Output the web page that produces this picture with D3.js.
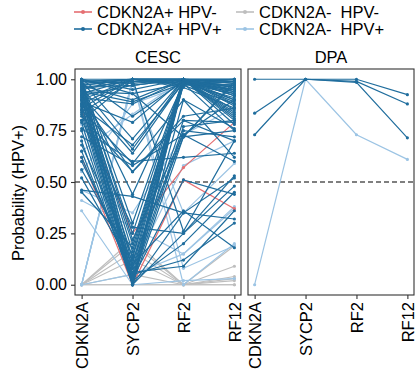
<!DOCTYPE html>
<html>
<head>
<meta charset="utf-8">
<script src="https://cdn.jsdelivr.net/npm/d3@7"></script>
<style>
  body { margin: 0; background: #fff; }
  text { font-family: "Liberation Sans", Arial, sans-serif; fill: #000; }
</style>
</head>
<body>
<svg width="416" height="375"></svg>
<script>
const genes = ["CDKN2A", "SYCP2", "RF2", "RF12"]
const groups = ["CDKN2A+ HPV-", "CDKN2A+ HPV+", "CDKN2A-  HPV-", "CDKN2A-  HPV+"]
const colors = ["#e56f72", "#1f6d9d", "#bebebe", "#9cc4e4"]
const panels = ["CESC", "DPA"]

// each row: probability at CDKN2A, SYCP2, RF2, RF12
const cescPosNeg = [
  [0.85, 0.25, 0.57, 0.79],
  [0.62, 0.00, 0.51, 0.37]
]
const cescPosPos = [
  [1.00, 1.00, 1.00, 1.00], [0.99, 1.00, 1.00, 0.98], [0.98, 1.00, 0.99, 0.96],
  [0.97, 1.00, 1.00, 0.93], [0.96, 0.99, 0.98, 0.95], [0.95, 1.00, 1.00, 0.90],
  [0.99, 0.98, 1.00, 0.99], [0.93, 1.00, 0.99, 0.97], [0.92, 0.97, 1.00, 0.92],
  [0.90, 1.00, 0.97, 0.88], [0.88, 1.00, 1.00, 0.85], [1.00, 0.95, 1.00, 0.82],
  [0.94, 0.93, 0.98, 0.94], [0.86, 1.00, 1.00, 0.99], [0.84, 0.99, 1.00, 0.80],
  [0.80, 1.00, 0.98, 0.91], [0.97, 0.90, 1.00, 0.87], [0.91, 0.88, 1.00, 1.00],
  [1.00, 0.82, 0.99, 0.97], [0.89, 0.79, 1.00, 0.78], [0.96, 0.66, 1.00, 0.96],
  [0.92, 0.64, 0.99, 0.90], [0.87, 0.68, 0.98, 0.99], [0.99, 0.71, 1.00, 0.84],
  [0.85, 0.59, 0.90, 0.76], [0.90, 0.55, 0.80, 0.70], [0.82, 0.55, 0.82, 0.86],
  [0.76, 0.60, 0.62, 0.64], [0.95, 0.44, 0.98, 0.93], [0.46, 0.43, 0.35, 0.32],
  [0.72, 0.58, 0.73, 0.60], [1.00, 0.30, 1.00, 1.00], [0.98, 0.25, 1.00, 0.96],
  [0.94, 0.20, 0.99, 0.89], [0.97, 0.16, 1.00, 0.94], [0.90, 0.13, 0.97, 0.99],
  [0.99, 0.10, 1.00, 0.83], [0.93, 0.08, 0.80, 0.79], [0.88, 0.05, 0.98, 0.97],
  [0.96, 0.03, 1.00, 0.92], [0.85, 0.02, 0.75, 0.72], [0.91, 0.01, 1.00, 0.88],
  [0.83, 0.00, 0.72, 0.98], [0.95, 0.00, 0.99, 0.95], [0.79, 0.00, 0.35, 0.52],
  [0.70, 0.00, 0.25, 0.48], [0.65, 0.02, 0.20, 0.45], [0.62, 0.05, 0.12, 0.30],
  [0.60, 0.10, 0.36, 0.18], [0.56, 0.12, 0.72, 0.75], [0.52, 0.08, 0.99, 1.00],
  [0.45, 0.18, 1.00, 0.98], [0.87, 0.04, 0.77, 0.80], [0.99, 0.22, 0.73, 0.90],
  [0.80, 0.28, 0.25, 0.53], [1.00, 0.03, 0.51, 0.44], [0.92, 0.00, 0.90, 0.62],
  [0.75, 0.00, 0.98, 1.00], [0.68, 0.14, 1.00, 0.95], [0.98, 0.06, 0.09, 0.36],
  [1.00, 0.93, 0.72, 0.99], [0.97, 1.00, 0.26, 0.70], [0.94, 0.89, 0.98, 0.75],
  [0.99, 1.00, 0.96, 0.86], [0.96, 0.97, 1.00, 0.81]
]
const cescNegNeg = [
  [0.00, 0.22, 0.00, 0.19], [0.00, 0.16, 0.00, 0.03], [0.00, 0.00, 0.00, 0.09],
  [0.00, 0.05, 0.00, 0.02], [0.00, 0.00, 0.00, 0.00], [0.00, 0.12, 0.00, 0.04],
  [0.00, 0.20, 0.00, 0.00]
]
const cescNegPos = [
  [0.00, 1.00, 0.00, 0.20], [0.00, 1.00, 0.98, 0.95], [0.00, 0.98, 0.35, 0.59],
  [0.00, 1.00, 0.08, 0.19], [0.46, 0.35, 0.73, 0.86], [0.41, 0.28, 0.15, 0.38],
  [0.36, 0.00, 0.02, 0.03], [0.55, 0.88, 0.97, 1.00], [0.65, 0.83, 1.00, 0.92],
  [0.00, 0.05, 0.15, 0.37], [0.78, 0.08, 0.58, 0.70]
]
const dpaPosPos = [
  [1.00, 1.00, 1.00, 0.925],
  [0.835, 1.00, 0.99, 0.88],
  [0.73, 1.00, 0.985, 0.715]
]
const dpaNegPos = [
  [0.00, 1.00, 0.73, 0.61]
]

// draw order: grey, light blue, red, dark blue on top
const cesc = [
  ...cescNegNeg.map(v => ({g: 2, v})),
  ...cescNegPos.map(v => ({g: 3, v})),
  ...cescPosNeg.map(v => ({g: 0, v})),
  ...cescPosPos.map(v => ({g: 1, v}))
]
const dpa = [
  ...dpaNegPos.map(v => ({g: 3, v})),
  ...dpaPosPos.map(v => ({g: 1, v}))
]

const svg = d3.select('svg')
const panelTop = 69, panelBottom = 295
const panelX = [[75, 241], [248, 414]]

const y = d3.scaleLinear().domain([-0.05, 1.05]).range([panelBottom, panelTop])

const line = (x) => d3.line()
    .x((d, i) => x(genes[i]))
    .y(d => y(d))

;[cesc, dpa].forEach((data, p) => {
  const [x0, x1] = panelX[p]
  const x = d3.scalePoint().domain(genes).range([x0, x1]).padding(0.13)
  const g = svg.append('g')

  g.append('text')
    .attr('x', (x0 + x1) / 2)
    .attr('y', 63)
    .attr('text-anchor', 'middle')
    .style('font-size', '16.5px')
    .text(panels[p])

  g.append('line')
    .attr('x1', x0).attr('x2', x1)
    .attr('y1', y(0.5)).attr('y2', y(0.5))
    .attr('stroke', '#000')
    .attr('stroke-width', 1.1)
    .attr('stroke-dasharray', '5,3')

  const s = g.selectAll('.sample').data(data).enter().append('g')
  s.append('path')
    .attr('d', d => line(x)(d.v))
    .attr('fill', 'none')
    .attr('stroke', d => colors[d.g])
    .attr('stroke-width', 1.2)
  s.selectAll('circle').data(d => d.v.map((v, i) => ({v, i, g: d.g}))).enter()
    .append('circle')
    .attr('cx', d => x(genes[d.i]))
    .attr('cy', d => y(d.v))
    .attr('r', 1.6)
    .attr('fill', d => colors[d.g])

  g.append('rect')
    .attr('x', x0).attr('y', panelTop)
    .attr('width', x1 - x0).attr('height', panelBottom - panelTop)
    .attr('fill', 'none')
    .attr('stroke', '#333')
    .attr('stroke-width', 1.1)

  const xa = g.append('g')
    .attr('transform', `translate(0, ${panelBottom})`)
    .call(d3.axisBottom(x).tickSize(4).tickPadding(3))
  xa.select('.domain').remove()
  xa.selectAll('.tick line').attr('stroke', '#333').attr('stroke-width', 1.1)
  xa.selectAll('.tick text')
    .attr('transform', 'rotate(-90)')
    .attr('x', -7).attr('y', 0).attr('dy', '0.35em')
    .attr('text-anchor', 'end')
    .style('font-size', '16.5px')
    .attr('fill', '#000')
    .attr('font-family', null)

  if (p === 0) {
    const ya = g.append('g')
      .attr('transform', `translate(${x0}, 0)`)
      .call(d3.axisLeft(y).tickValues([0, 0.25, 0.5, 0.75, 1]).tickFormat(d3.format('.2f')).tickSize(4).tickPadding(4))
    ya.select('.domain').remove()
    ya.selectAll('.tick line').attr('stroke', '#333').attr('stroke-width', 1.1)
    ya.selectAll('.tick text')
      .style('font-size', '16px')
      .attr('fill', '#000')
      .attr('font-family', null)
  }
})

svg.append('text')
  .attr('transform', 'translate(24, 193) rotate(-90)')
  .attr('text-anchor', 'middle')
  .style('font-size', '16.5px')
  .text('Probability (HPV+)')

// legend, two columns
const legend = svg.append('g')
const legPos = [[74, 12], [74, 29], [236, 12], [236, 29]]
groups.forEach((name, i) => {
  const [lx, ly] = legPos[i]
  const k = legend.append('g').attr('transform', `translate(${lx}, ${ly})`)
  k.append('line')
    .attr('x1', 0).attr('x2', 18)
    .attr('stroke', colors[i]).attr('stroke-width', 1.6)
  k.append('circle').attr('cx', 9).attr('r', 2).attr('fill', colors[i])
  k.append('text')
    .attr('x', 23).attr('dy', '0.35em')
    .style('font-size', '16.5px')
    .style('white-space', 'pre')
    .text(name)
})
</script>
</body>
</html>
